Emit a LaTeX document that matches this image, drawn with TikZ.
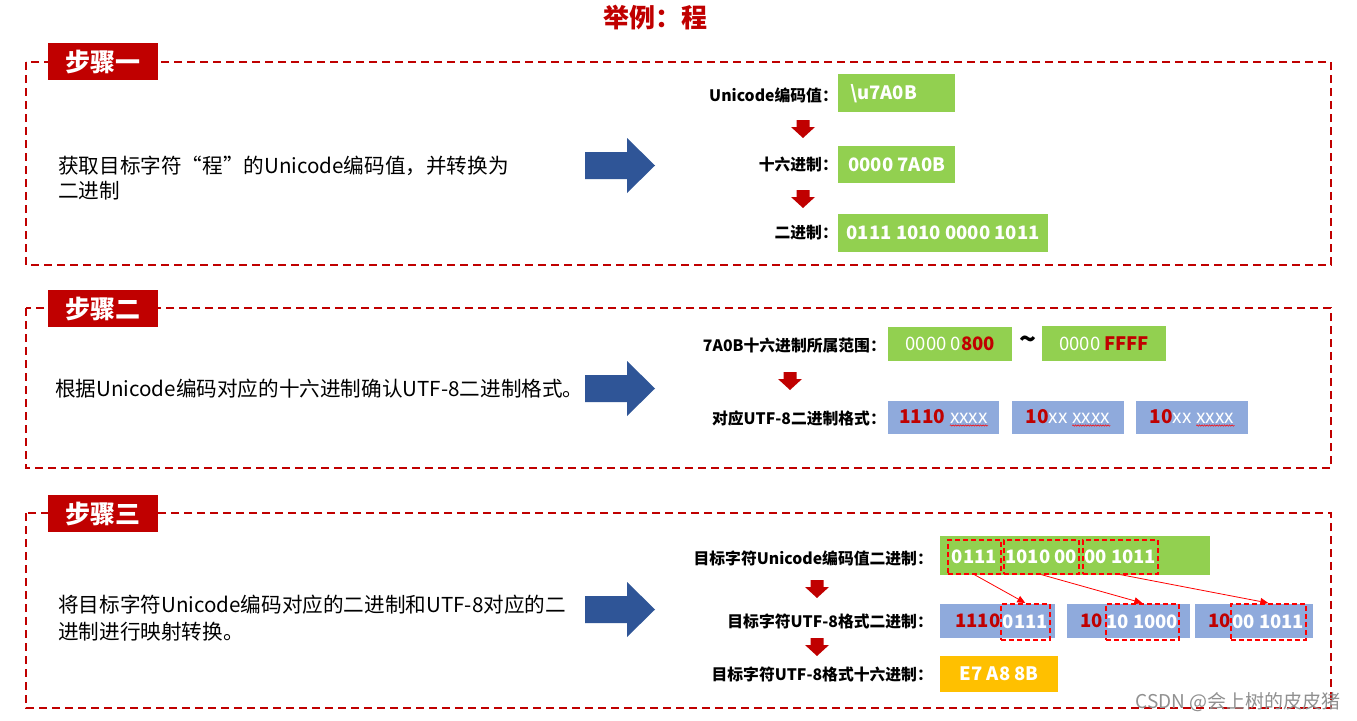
\documentclass[tikz,border=0pt]{standalone}
\usepackage{fontspec}
\setmainfont{Noto Sans CJK SC}
\usetikzlibrary{arrows.meta,decorations.pathmorphing}
\definecolor{darkred}{HTML}{C00000}
\definecolor{boxgreen}{HTML}{92D050}
\definecolor{boxblue}{HTML}{8FAADC}
\definecolor{boxyellow}{HTML}{FFC000}
\definecolor{bigblue}{HTML}{2F5597}
\definecolor{brightred}{HTML}{FF0000}
\definecolor{marktext}{HTML}{909090}
\newcommand\wavy[1]{\tikz[baseline=(wv.base)]{\node[inner sep=0pt, minimum width=0pt, minimum height=0pt, fill=none, draw=none, anchor=base, text=white] (wv) {#1}; \draw[brightred, line width=0.5pt, decorate, decoration={snake, amplitude=0.7pt, segment length=2.5pt}] ([yshift=-2.5pt]wv.base west) -- ([yshift=-2.5pt]wv.base east);}}
\newcommand\rb[1]{\textbf{\color{darkred}#1}}
\tikzset{
  border/.style={draw=darkred, line width=1.8pt, dash pattern=on 8pt off 5pt},
  steplabel/.style={fill=darkred, text=white, font=\fontsize{25}{28}\selectfont\bfseries, minimum width=110pt, minimum height=37pt, anchor=north west, inner sep=0pt},
  lefttext/.style={anchor=west, align=left, inner sep=0pt, font=\fontsize{20.6}{25}\selectfont},
  lbl/.style={anchor=east, inner sep=0pt, font=\fontsize{15.8}{18}\selectfont\bfseries},
  valbox/.style={anchor=north west, inner sep=0pt, fill=boxgreen, text=white, font=\fontsize{18.5}{21}\selectfont\bfseries},
  cutbox/.style={draw=brightred, line width=1.6pt, dash pattern=on 5pt off 3pt, anchor=north west, inner sep=0pt, text=white, font=\fontsize{18.5}{21}\selectfont\bfseries},
  redpart/.style={anchor=west, inner sep=0pt, text=darkred, font=\fontsize{18.5}{21}\selectfont\bfseries},
  maparrow/.style={draw=brightred, line width=0.8pt, -{Triangle[length=8pt,width=7pt]}},
  bigarrow/.pic={\fill[bigblue] (0,14) -- (42,14) -- (42,0) -- (70,27.5) -- (42,55) -- (42,41) -- (0,41) -- cycle;},
  downarrow/.pic={\fill[darkred] (-6.5,0) -- (6.5,0) -- (6.5,7) -- (12,7) -- (0,18) -- (-12,7) -- (-6.5,7) -- cycle;}
}
\begin{document}
\begin{tikzpicture}[x=1pt,y=-1pt]
\useasboundingbox[fill=white] (0,0) rectangle (1357,720);

% title
\node[font=\fontsize{26}{28}\selectfont\bfseries, text=darkred] (title) at (655,18) {举例：程};

% ---------- step 1
\draw[border] (26,62) rectangle (1331,265);
\node[steplabel] (s1) at (48,43) {步骤一};
\node[lefttext] (t1) at (58,178) {获取目标字符“程”的Unicode编码值，并转换为\\二进制};
\pic at (585,138) {bigarrow};
\node[lbl] (l11) at (838,95) {Unicode编码值：};
\node[valbox, text width=93pt, inner xsep=12pt, align=left, minimum height=38pt] (v11) at (838,74) {\textbackslash u7A0B};
\pic at (803,120) {downarrow};
\node[lbl] (l12) at (838,165) {十六进制：};
\node[valbox, minimum width=117pt, minimum height=37pt] (v12) at (838,146) {0000 7A0B};
\pic at (803,190) {downarrow};
\node[lbl] (l13) at (838,233) {二进制：};
\node[valbox, minimum width=210pt, minimum height=38pt] (v13) at (838,214) {0111 1010 0000 1011};

% ---------- step 2
\draw[border] (26,308) rectangle (1331,468);
\node[steplabel] (s2) at (48,290) {步骤二};
\node[lefttext] (t2) at (55,389) {根据Unicode编码对应的十六进制确认UTF-8二进制格式。};
\pic at (585,361) {bigarrow};
\node[lbl] (l21) at (886,346) {7A0B十六进制所属范围：};
\node[valbox, font=\fontsize{18.5}{21}\selectfont, minimum width=124pt, minimum height=34pt] (v21) at (888,327) {0000 0\rb{800}};
\node[font=\fontsize{28}{28}\selectfont\bfseries, inner sep=0pt] (tl) at (1028,343) {\textasciitilde};
\node[valbox, font=\fontsize{18.5}{21}\selectfont, minimum width=124pt, minimum height=35pt] (v22) at (1042,326) {0000 \rb{FFFF}};
\pic at (790,372) {downarrow};
\node[lbl] (l22) at (886,418) {对应UTF-8二进制格式：};
\node[valbox, fill=boxblue, font=\fontsize{19}{21}\selectfont, minimum width=111pt, minimum height=33pt] (u1) at (888,401) {\rb{1110} \wavy{xxxx}};
\node[valbox, fill=boxblue, font=\fontsize{19}{21}\selectfont, minimum width=112pt, minimum height=33pt] (u2) at (1012,401) {\rb{10}xx \wavy{xxxx}};
\node[valbox, fill=boxblue, font=\fontsize{19}{21}\selectfont, minimum width=112pt, minimum height=33pt] (u3) at (1136,401) {\rb{10}xx \wavy{xxxx}};

% ---------- step 3
\draw[border] (26,513) rectangle (1331,708);
\node[steplabel] (s3) at (48,495) {步骤三};
\node[lefttext, font=\fontsize{20.6}{27}\selectfont] (t3) at (58,618) {将目标字符Unicode编码对应的二进制和UTF-8对应的二\\进制进行映射转换。};
\pic at (585,582) {bigarrow};
\node[lbl] (l31) at (933,558) {目标字符Unicode编码值二进制：};
\node[valbox, minimum width=270pt, minimum height=39pt] (v31) at (940,536) {};
\node[cutbox, minimum width=53pt, minimum height=34pt] (c1) at (947,539) {0111};
\node[cutbox, minimum width=75pt, minimum height=34pt] (c2) at (1003,539) {1010 00};
\node[cutbox, minimum width=75pt, minimum height=34pt] (c3) at (1082,539) {00 1011};
\pic at (817,580) {downarrow};
\node[lbl] (l32) at (933,621) {目标字符UTF-8格式二进制：};
\node[valbox, fill=boxblue, minimum width=115pt, minimum height=34pt] (b1) at (940,604) {};
\node[valbox, fill=boxblue, minimum width=123pt, minimum height=34pt] (b2) at (1067,604) {};
\node[valbox, fill=boxblue, minimum width=118pt, minimum height=34pt] (b3) at (1195,604) {};
\node[redpart] (r1) at (955,621) {1110};
\node[redpart] (r2) at (1080,621) {10};
\node[redpart] (r3) at (1208,621) {10};
\node[cutbox, minimum width=49pt, minimum height=36pt] (d1) at (1000,603) {0111};
\node[cutbox, minimum width=73pt, minimum height=36pt] (d2) at (1105,603) {10 1000};
\node[cutbox, minimum width=75pt, minimum height=36pt] (d3) at (1230,603) {00 1011};
\draw[maparrow] (c1.south) -- (d1.north);
\draw[maparrow] (c2.south) -- (d2.north);
\draw[maparrow] (c3.south) -- (d3.north);
\pic at (817,638) {downarrow};
\node[lbl] (l33) at (933,674) {目标字符UTF-8格式十六进制：};
\node[valbox, fill=boxyellow, minimum width=118pt, minimum height=36pt] (v33) at (940,656) {E7 A8 8B};

% watermark
\node[anchor=east, inner sep=0pt, text=marktext, font=\fontsize{19}{20}\selectfont] (wm) at (1341,702) {CSDN @会上树的皮皮猪};
\end{tikzpicture}
\end{document}
